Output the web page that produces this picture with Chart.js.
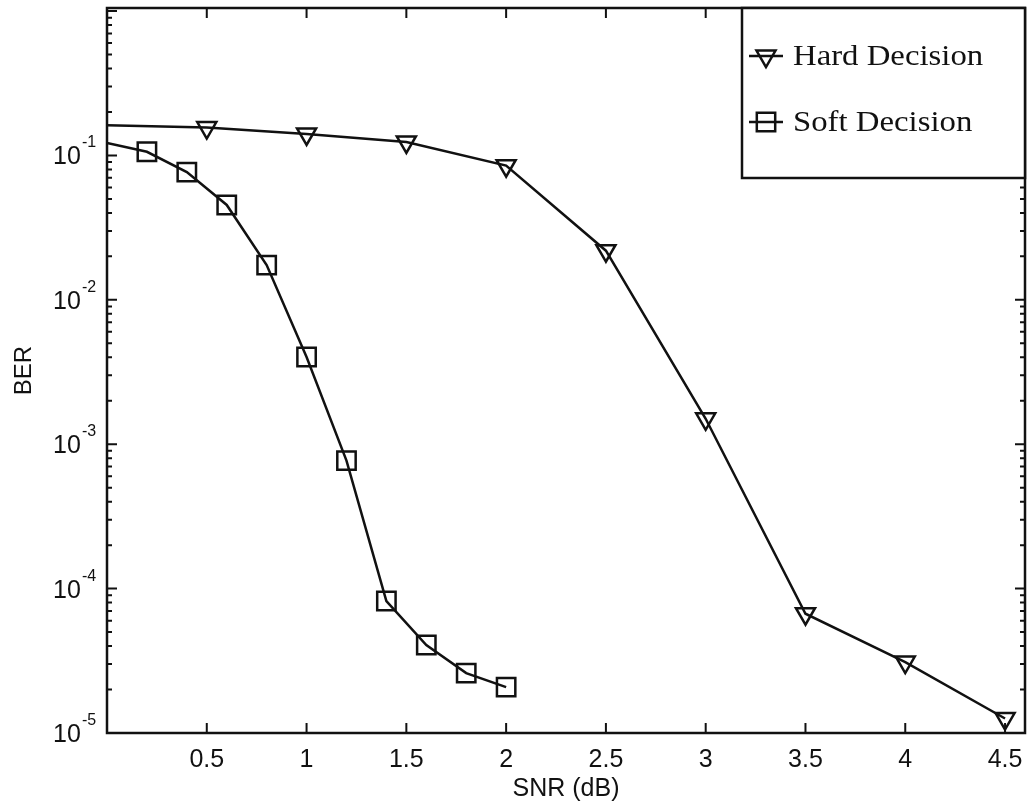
<!DOCTYPE html>
<html>
<head>
<meta charset="utf-8">
<script src="https://cdn.jsdelivr.net/npm/chart.js@4/dist/chart.umd.min.js"></script>
<style>
  html, body { margin: 0; padding: 0; background: #fff; }
  #wrap { width: 1028px; height: 811px; position: relative; }
</style>
</head>
<body>
<div id="wrap"><canvas id="berChart"></canvas></div>
<script>
// values
const snrHard = [0, 0.5, 1, 1.5, 2, 2.5, 3, 3.5, 4, 4.5];
const berHard = [0.162, 0.156, 0.141, 0.124, 0.085, 0.0219, 0.0015, 6.7e-5, 3.1e-5, 1.26e-5];

const snrSoft = [0, 0.2, 0.4, 0.6, 0.8, 1.0, 1.2, 1.4, 1.6, 1.8, 2.0];
const berSoft = [0.122, 0.106, 0.0767, 0.0454, 0.0174, 0.00402, 7.7e-4, 8.2e-5, 4.07e-5, 2.6e-5, 2.08e-5];

const seriesLabels = ['Hard Decision', 'Soft Decision'];
const decadeTicks = [1e-1, 1e-2, 1e-3, 1e-4, 1e-5];
const decadeExp = ['-1', '-2', '-3', '-4', '-5'];

const INK = '#111';

function toPoints(xs, ys) {
    return xs.map((x, i) => ({ x: x, y: ys[i] }));
}

// frame, inward ticks, decade labels and boxed legend
const framePlugin = {
    id: 'frame',
    afterDatasetsDraw(chart) {
        const { ctx, chartArea: a, scales } = chart;
        const xs = scales.x, ys = scales.y;
        ctx.save();
        ctx.strokeStyle = INK;
        ctx.lineWidth = 2.5;
        ctx.strokeRect(a.left, a.top, a.right - a.left, a.bottom - a.top);

        // x ticks, bottom and top
        ctx.lineWidth = 2;
        xs.ticks.forEach(t => {
            if (t.value <= 0) return;
            const px = xs.getPixelForValue(t.value);
            ctx.beginPath();
            ctx.moveTo(px, a.bottom); ctx.lineTo(px, a.bottom - 10);
            ctx.moveTo(px, a.top); ctx.lineTo(px, a.top + 10);
            ctx.stroke();
        });

        // y ticks, major and minor, left and right
        for (let e = -5; e <= 0; e++) {
            for (let m = 1; m <= 9; m++) {
                const v = m * Math.pow(10, e);
                if (v < ys.min || v > ys.max) continue;
                const py = ys.getPixelForValue(v);
                const len = m === 1 ? 10 : 5;
                ctx.beginPath();
                ctx.moveTo(a.left, py); ctx.lineTo(a.left + len, py);
                ctx.moveTo(a.right, py); ctx.lineTo(a.right - len, py);
                ctx.stroke();
            }
        }

        // decade labels 10^n
        ctx.fillStyle = INK;
        ctx.textAlign = 'left';
        ctx.textBaseline = 'alphabetic';
        decadeTicks.forEach((v, i) => {
            const py = ys.getPixelForValue(v);
            ctx.font = '25px "Liberation Sans", Arial, sans-serif';
            ctx.fillText('10', 53, py + 9);
            ctx.font = '16px "Liberation Sans", Arial, sans-serif';
            ctx.fillText(decadeExp[i], 82, py - 8);
        });

        // legend box
        const lx = 742, lb = 178;
        ctx.fillStyle = '#fff';
        ctx.fillRect(lx, a.top, a.right - lx, lb - a.top);
        ctx.lineWidth = 2.5;
        ctx.strokeRect(lx, a.top, a.right - lx, lb - a.top);
        const rows = [56, 122];
        chart.data.datasets.forEach((ds, i) => {
            const y = rows[i];
            ctx.lineWidth = 2.5;
            ctx.strokeStyle = INK;
            ctx.beginPath();
            ctx.moveTo(749, y); ctx.lineTo(783, y);
            ctx.stroke();
            ctx.fillStyle = 'rgba(0,0,0,0)';
            Chart.helpers.drawPoint(ctx, {
                pointStyle: ds.pointStyle,
                rotation: ds.rotation || 0,
                radius: ds.pointStyle === 'rect' ? 13 : 11,
                borderWidth: 2.5
            }, 766, y);
            ctx.fillStyle = INK;
            ctx.font = '29px "Liberation Serif", "Times New Roman", serif';
            ctx.save();
            ctx.translate(793, y + 9);
            ctx.scale(1.13, 1);
            ctx.fillText(ds.label, 0, 0);
            ctx.restore();
        });
        ctx.restore();
    }
};

new Chart(document.getElementById('berChart'), {
    type: 'line',
    data: {
        datasets: [
            {
                label: seriesLabels[0],
                data: toPoints(snrHard, berHard),
                borderColor: INK,
                borderWidth: 2.5,
                pointStyle: 'triangle',
                rotation: 180,
                pointRadius: c => c.dataIndex === 0 ? 0 : 11,
                pointBorderWidth: 2.5,
                pointBorderColor: INK,
                pointBackgroundColor: 'rgba(0,0,0,0)',
                tension: 0
            },
            {
                label: seriesLabels[1],
                data: toPoints(snrSoft, berSoft),
                borderColor: INK,
                borderWidth: 2.5,
                pointStyle: 'rect',
                pointRadius: c => c.dataIndex === 0 ? 0 : 13,
                pointBorderWidth: 2.5,
                pointBorderColor: INK,
                pointBackgroundColor: 'rgba(0,0,0,0)',
                tension: 0
            }
        ]
    },
    options: {
        responsive: true,
        maintainAspectRatio: false,
        animation: false,
        layout: { autoPadding: false, padding: { top: 8, right: 3, left: 0, bottom: 0 } },
        plugins: {
            legend: { display: false },
            tooltip: { enabled: false }
        },
        scales: {
            x: {
                type: 'linear',
                min: 0,
                max: 4.6,
                afterFit: s => { s.height = 78; s.paddingLeft = 0; s.paddingRight = 0; },
                grid: { display: false, drawTicks: false },
                border: { display: false },
                ticks: {
                    stepSize: 0.5,
                    includeBounds: false,
                    autoSkip: false,
                    maxRotation: 0,
                    padding: 12,
                    color: INK,
                    font: { family: '"Liberation Sans", Arial, sans-serif', size: 25 },
                    callback: v => v === 0 ? '' : String(v)
                },
                title: {
                    display: true,
                    text: 'SNR (dB)',
                    color: INK,
                    font: { family: '"Liberation Sans", Arial, sans-serif', size: 25 },
                    padding: { top: 0, bottom: 7 }
                }
            },
            y: {
                type: 'logarithmic',
                min: 1e-5,
                max: 1.05,
                afterFit: s => { s.width = 107; },
                grid: { display: false, drawTicks: false },
                border: { display: false },
                ticks: { display: false },
                title: {
                    display: true,
                    text: 'BER',
                    color: INK,
                    font: { family: '"Liberation Sans", Arial, sans-serif', size: 24 },
                    padding: { top: 10, bottom: 0 }
                }
            }
        }
    },
    plugins: [framePlugin]
});
</script>
</body>
</html>
